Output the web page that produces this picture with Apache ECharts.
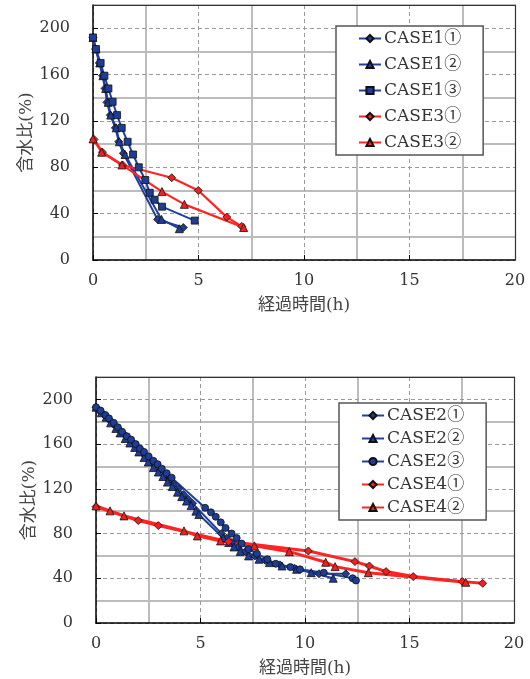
<!DOCTYPE html>
<html><head><meta charset="utf-8">
<script src="https://cdn.jsdelivr.net/npm/echarts@6.0.0/dist/echarts.min.js"></script>
<style>html,body{margin:0;padding:0;background:#fff}#c{width:530px;height:679px}</style>
</head><body><div id="c"></div><script>
// ---- data (x: 経過時間(h), y: 含水比(%)) ----
const xTicks = {min: 0, max: 20, step: 5, minorStep: 2.5};
const yTicks = {min: 0, max: 220, step: 40, minorStep: 20};

const topNames = ['CASE1①', 'CASE1②', 'CASE1③', 'CASE3①', 'CASE3②'];
const bottomNames = ['CASE2①', 'CASE2②', 'CASE2③', 'CASE4①', 'CASE4②'];

const case1_1 = [[0,192],[0.12,182],[0.3,170],[0.45,159],[0.57,148],[0.66,136],[0.82,125],[1.06,114],[1.22,102],[1.44,92],[3.06,35],[4.28,28]];
const case1_2 = [[0,192],[0.14,182],[0.32,170],[0.47,159],[0.6,148],[0.72,136],[0.84,125],[1.1,114],[1.25,102],[1.52,91],[3.25,35],[4.09,27]];
const case1_3 = [[0,192],[0.14,182],[0.36,170],[0.54,159],[0.73,148],[0.93,136.5],[1.14,125],[1.36,114],[1.64,102],[1.9,91],[2.17,80],[2.48,69],[2.69,58],[2.92,52],[3.27,46],[4.82,34]];
const case3_1 = [[0.05,104],[0.45,93],[1.4,82],[3.73,71],[4.99,60],[6.34,37],[7.05,29]];
const case3_2 = [[0,104.5],[0.41,93],[1.37,82],[3.27,59],[4.33,48],[7.14,28]];

const case2_1 = [[0,193],[0.2,189],[0.4,186],[0.62,182],[0.82,178],[1.05,174],[1.28,170],[1.5,166],[1.72,162],[1.95,157],[2.15,153],[2.38,149],[2.6,145],[2.82,141],[3.05,137],[3.28,132],[3.5,128],[3.72,124],[3.95,120],[4.18,115],[4.4,111],[4.62,107],[6.0,80],[6.25,76],[6.5,72],[6.8,68],[7.15,64],[7.6,60],[8.1,56],[8.8,52],[9.5,49],[10.67,44],[11.95,44]];
const case2_2 = [[0,193],[0.25,188],[0.48,184],[0.7,179],[0.95,174],[1.15,170],[1.4,165],[1.62,161],[1.85,157],[2.05,153],[2.3,148],[2.5,144],[2.75,139],[2.98,135],[3.2,131],[3.42,126],[3.65,122],[3.9,117],[4.1,113],[4.33,109],[4.55,105],[4.78,100],[4.92,97],[6.09,76],[6.35,72],[6.6,68],[6.9,64],[7.3,60],[7.8,57],[8.3,54],[8.9,51],[9.6,48],[10.3,45],[11.35,40]];
const case2_3 = [[0,193],[0.22,190],[0.45,186],[0.62,183],[0.85,179],[1.05,175],[1.25,171],[1.48,167],[1.68,164],[1.9,160],[2.1,156],[2.3,153],[2.52,149],[2.75,145],[2.95,142],[3.15,138],[3.38,134],[3.62,130],[5.22,103],[5.5,99],[5.73,95],[5.97,90],[6.2,85],[6.49,80],[6.73,76],[6.97,71],[7.3,66],[7.7,62],[8.2,57],[8.6,53],[9.3,50],[9.76,48],[10.9,45],[12.28,40],[12.44,38]];
const case4_1 = [[0,104],[2.02,91.6],[2.98,87.1],[6.34,72.8],[10.16,64.4],[12.39,54.9],[13.08,51],[13.88,46],[15.18,41.5],[17.53,37],[18.5,35.5]];
const case4_2 = [[0,104.7],[0.67,100.3],[1.34,95.8],[4.21,82.4],[4.85,77.9],[5.96,73.4],[7.58,69],[9.25,63.8],[10.99,54.3],[11.44,50.4],[13.03,45],[17.69,36.4]];

// ---- styling ----
const FONT = "'DejaVu Serif','Noto Sans CJK JP',serif";
const NAMEFONT = "'DejaVu Serif','Noto Sans CJK JP',sans-serif";
const BLUE = '#22409a', BLUE_F = '#1f3c96', RED = '#ff2424', RED_F = '#ee2020';
const MINOR = '#bcbcbc';

const grids = [
  {left: 93, top: 5, width: 422, height: 255},
  {left: 96, top: 377, width: 418, height: 246}
];

function mainX(i) {
  return {
    type: 'value', gridIndex: i, min: xTicks.min, max: xTicks.max, interval: xTicks.step, z: 3,
    axisLine: {show: true, onZero: false, lineStyle: {color: '#000', width: 1.5}},
    axisTick: {show: true, inside: true, length: 5, lineStyle: {color: '#000'}},
    axisLabel: {fontFamily: FONT, fontSize: 16, color: '#333', margin: 13},
    splitLine: {show: true, lineStyle: {color: '#9a9a9a', type: [4, 3], width: 1}},
    name: '経過時間(h)', nameLocation: 'middle', nameGap: 37, nameMoveOverlap: false,
    nameTextStyle: {fontFamily: NAMEFONT, fontSize: 17, color: '#444'}
  };
}
function mainY(i) {
  return {
    type: 'value', gridIndex: i, min: yTicks.min, max: yTicks.max, interval: yTicks.step, z: 3,
    axisLine: {show: true, onZero: false, lineStyle: {color: '#000', width: 1.5}},
    axisTick: {show: true, inside: true, length: 5, lineStyle: {color: '#000'}},
    axisLabel: {fontFamily: FONT, fontSize: 16, color: '#333', margin: 23, showMaxLabel: false},
    splitLine: {show: true, lineStyle: {color: '#9a9a9a', type: [4, 3], width: 1}},
    name: '含水比(%)', nameLocation: 'middle', nameGap: 58, nameRotate: 90, nameMoveOverlap: false,
    nameTextStyle: {fontFamily: NAMEFONT, fontSize: 17, color: '#444'}
  };
}
// light solid minor grid lines: every second line of a finer axis (the others transparent)
function minorX(i) {
  return {type: 'value', gridIndex: i, position: 'bottom', min: xTicks.min, max: xTicks.max, interval: xTicks.minorStep, z: 1,
    axisLine: {show: false}, axisTick: {show: false}, axisLabel: {show: false},
    splitLine: {show: true, lineStyle: {color: ['rgba(255,255,255,0)', MINOR], width: 2, type: 'solid'}}};
}
function minorY(i) {
  return {type: 'value', gridIndex: i, position: 'left', min: yTicks.min, max: yTicks.max, interval: yTicks.minorStep, z: 1,
    axisLine: {show: false}, axisTick: {show: false}, axisLabel: {show: false},
    splitLine: {show: true, lineStyle: {color: ['rgba(255,255,255,0)', MINOR], width: 2, type: 'solid'}}};
}
function borderX(i) {
  return {type: 'value', gridIndex: i, position: 'top', min: xTicks.min, max: xTicks.max, z: 4,
    axisLine: {show: true, onZero: false, lineStyle: {color: '#333', width: 1.2}},
    axisTick: {show: false}, axisLabel: {show: false}, splitLine: {show: false}};
}
function borderY(i) {
  return {type: 'value', gridIndex: i, position: 'right', min: yTicks.min, max: yTicks.max, z: 4,
    axisLine: {show: true, onZero: false, lineStyle: {color: '#333', width: 1.2}},
    axisTick: {show: false}, axisLabel: {show: false}, splitLine: {show: false}};
}

function ser(name, data, i, symbol, size, blue, lw) {
  return {
    name: name, type: 'line', xAxisIndex: i, yAxisIndex: i, data: data, z: 5,
    symbol: symbol, symbolSize: size, showAllSymbol: true,
    lineStyle: {color: blue ? BLUE : RED, width: lw},
    itemStyle: {color: blue ? BLUE_F : RED_F, borderColor: '#111', borderWidth: 0.8},
    emphasis: {disabled: true}
  };
}

function legend(names, left, top, gap) {
  return {
    data: names, orient: 'vertical', left: left, top: top, z: 6,
    padding: [4, 22, 4, 22], itemGap: gap, itemWidth: 22, itemHeight: 9,
    backgroundColor: '#fff', borderColor: '#555', borderWidth: 1.5, borderRadius: 0,
    selectedMode: false,
    textStyle: {fontFamily: FONT, fontSize: 17, color: '#333', padding: [0, 0, 0, -2]}
  };
}

const option = {
  animation: false,
  backgroundColor: '#fff',
  grid: grids,
  xAxis: [mainX(0), mainX(1), borderX(0), borderX(1), minorX(0), minorX(1)],
  yAxis: [mainY(0), mainY(1), borderY(0), borderY(1), minorY(0), minorY(1)],
  legend: [legend(topNames, 336, 26, 9), legend(bottomNames, 339, 403, 6)],
  series: [
    ser(topNames[0], case1_1, 0, 'diamond', 8, true, 2),
    ser(topNames[1], case1_2, 0, 'triangle', 8, true, 2),
    ser(topNames[2], case1_3, 0, 'rect', 7, true, 2),
    ser(topNames[3], case3_1, 0, 'diamond', 8, false, 2.2),
    ser(topNames[4], case3_2, 0, 'triangle', 8, false, 2.2),
    ser(bottomNames[0], case2_1, 1, 'diamond', 8, true, 2),
    ser(bottomNames[1], case2_2, 1, 'triangle', 8, true, 2),
    ser(bottomNames[2], case2_3, 1, 'circle', 7, true, 2),
    ser(bottomNames[3], case4_1, 1, 'diamond', 8, false, 3),
    ser(bottomNames[4], case4_2, 1, 'triangle', 8, false, 3)
  ]
};
const chart = echarts.init(document.getElementById('c'), null, {renderer: 'canvas'});
chart.setOption(option);
</script></body></html>
